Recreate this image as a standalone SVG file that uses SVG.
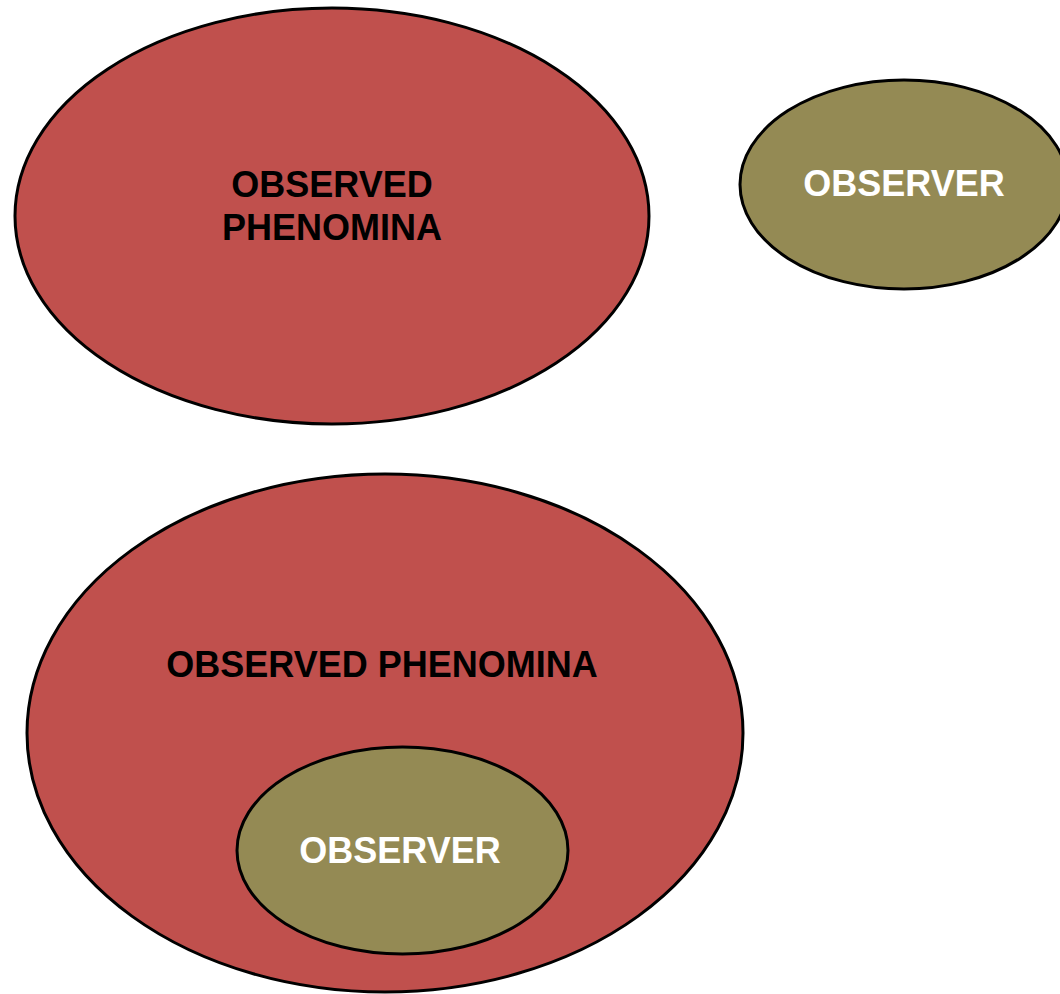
<svg xmlns="http://www.w3.org/2000/svg" width="1060" height="994" viewBox="0 0 1060 994">
  <style>
    .phen { fill: #C0504D; stroke: #000; stroke-width: 3; }
    .obs { fill: #948A54; stroke: #000; stroke-width: 3; }
    .lbl { font-family: "Liberation Sans", Arial, sans-serif; font-weight: bold; font-size: 36px; text-anchor: middle; }
    .dark { fill: #000; }
    .light { fill: #fff; }
  </style>
  <rect width="1060" height="994" fill="#fff"/>

  <!-- separate: phenomena on the left, observer on the right -->
  <g id="phenomena-top">
    <ellipse class="phen" cx="332" cy="216" rx="317" ry="208"/>
    <text class="lbl dark" x="332" y="197">OBSERVED</text>
    <text class="lbl dark" x="332" y="240">PHENOMINA</text>
  </g>
  <g id="observer-top">
    <ellipse class="obs" cx="904" cy="184.5" rx="164" ry="104.5"/>
    <text class="lbl light" x="904" y="196">OBSERVER</text>
  </g>

  <!-- nested: observer inside phenomena -->
  <g id="phenomena-bottom">
    <ellipse class="phen" cx="385" cy="733" rx="358" ry="259"/>
    <text class="lbl dark" x="382" y="677">OBSERVED PHENOMINA</text>
  </g>
  <g id="observer-bottom">
    <ellipse class="obs" cx="402.5" cy="850.5" rx="165.5" ry="103.5"/>
    <text class="lbl light" x="400" y="863">OBSERVER</text>
  </g>

  <g id="connectors"/>
</svg>
